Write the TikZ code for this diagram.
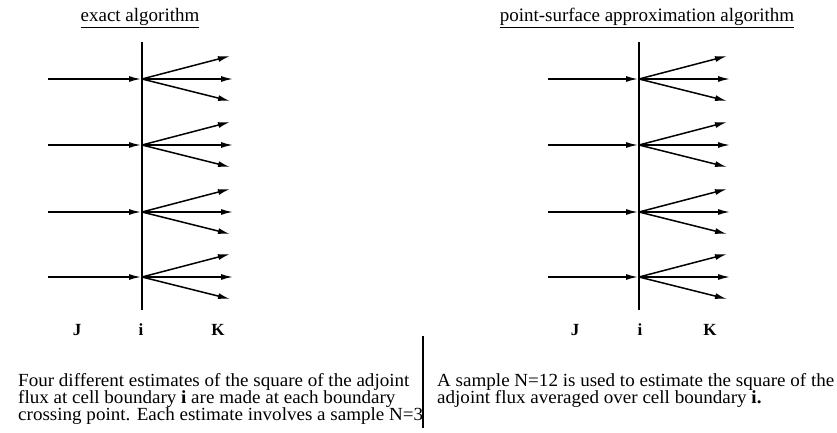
\documentclass[tikz,border=0pt]{standalone}
\usepackage{fontspec}
\setmainfont{Liberation Serif}
\newfontfamily\bodyfont[FakeStretch=1.03]{Liberation Serif}
\usetikzlibrary{arrows.meta}
\begin{document}
\begin{tikzpicture}[x=1pt,y=-1pt,
  arr/.style={line width=1.5pt,-{Latex[length=12pt,width=6pt]}},
  bnd/.style={line width=1.5pt},
  lbl/.style={font=\fontsize{17}{17}\selectfont\bfseries,inner sep=0pt,anchor=base},
  ttl/.style={font=\fontsize{19}{19}\selectfont,inner sep=0pt,anchor=base},
  body/.style={font=\bodyfont\fontsize{18.5}{16}\selectfont,inner sep=0pt,anchor=base west,
    text height=11pt,text depth=3pt}]
\useasboundingbox (0,0) rectangle (837,433);
% titles
\node[ttl] (tl) at (140,22) {\underline{exact algorithm}};
\node[ttl] (tr) at (647,22) {\underline{point-surface approximation algorithm}};
% panels
\foreach \p/\bx/\sx in {L/142/48, R/639/548} {
  \coordinate (\p top) at (\bx,42);
  \coordinate (\p bot) at (\bx,310);
  \draw[bnd] (\p top) -- (\p bot);
  \foreach \r/\y in {1/79,2/145,3/212,4/277} {
    \coordinate (\p v\r) at (\bx,\y);
    \coordinate (\p s\r) at (\sx,\y);
    \coordinate (\p a\r) at (\bx+88,\y-23);
    \coordinate (\p b\r) at (\bx+91,\y);
    \coordinate (\p c\r) at (\bx+88,\y+22);
    \draw[arr,shorten >=1pt] (\p s\r) -- (\p v\r);
    \draw[arr] (\p v\r) -- (\p a\r);
    \draw[arr] (\p v\r) -- (\p b\r);
    \draw[arr] (\p v\r) -- (\p c\r);
  }
}
% labels
\node[lbl] (Lj) at (77,335) {J};
\node[lbl] (Li) at (141,335) {i};
\node[lbl] (Lk) at (218,335) {K};
\node[lbl] (Rj) at (575,335) {J};
\node[lbl] (Ri) at (640,335) {i};
\node[lbl] (Rk) at (710,335) {K};
% separator
\coordinate (sepT) at (423,336);
\coordinate (sepB) at (423,428);
\draw[line width=1.3pt] (sepT) -- (sepB);
% texts
\node[body] (t1) at (18,386) {Four different estimates of the square of the adjoint};
\node[body] (t2) at (18,403) {flux at cell boundary \textbf{i} are made at each boundary};
\node[body] (t3) at (18,420) {crossing point. Each estimate involves a sample N=3};
\node[body] (u1) at (437,386) {A sample N=12 is used to estimate the square of the};
\node[body] (u2) at (437,403) {adjoint flux averaged over cell boundary \textbf{i.}};
\end{tikzpicture}
\end{document}
